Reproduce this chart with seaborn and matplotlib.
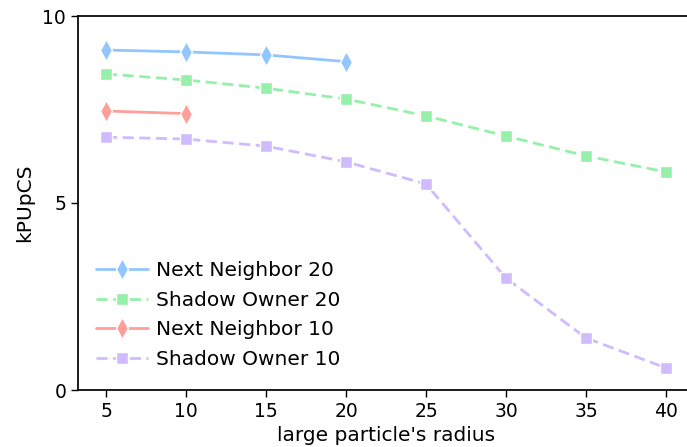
import matplotlib
matplotlib.use("Agg")
import matplotlib.pyplot as plt
import seaborn as sns
import pandas as pd

radius = [5, 10, 15, 20, 25, 30, 35, 40]
nn20 = [9.09, 9.04, 8.96, 8.78]
so20 = [8.45, 8.29, 8.07, 7.78, 7.33, 6.79, 6.26, 5.83]
nn10 = [7.46, 7.39]
so10 = [6.76, 6.71, 6.52, 6.10, 5.51, 2.99, 1.39, 0.59]
labels = ["Next Neighbor 20", "Shadow Owner 20", "Next Neighbor 10", "Shadow Owner 10"]
colors = ["#92C6FF", "#97F0AA", "#FF9F9A", "#D0BBFF"]

sns.set_theme(style="ticks", rc={"axes.edgecolor": "black", "xtick.color": "black",
                                 "ytick.color": "black", "axes.labelcolor": "black",
                                 "text.color": "black"})
plt.rcParams['font.family'] = ['DejaVu Sans']

fig = plt.figure(figsize=(6.87, 4.47), dpi=100)
ax = fig.add_axes([78/687, 1-390/447, 616/687, 374/447])

series = [nn20, so20, nn10, so10]
marks = ["d", "s", "d", "s"]
msizes = [11, 9, 11, 9]
styles = ["-", "--", "-", "--"]
for lab, vals, col, mk, ms, ls in zip(labels, series, colors, marks, msizes, styles):
    d = pd.DataFrame({"radius": radius[:len(vals)], "kPUpCS": vals})
    sns.lineplot(data=d, x="radius", y="kPUpCS", color=col, marker=mk, markersize=ms,
                 linestyle=ls, linewidth=2, markeredgecolor="white", markeredgewidth=1,
                 label=lab, ax=ax)
for line in ax.get_lines():
    if line.get_linestyle() == "--":
        line.set_dashes((4, 2))

ax.spines["right"].set_visible(False)
ax.set_ylim(0, 10)
ax.set_xlim(3.25, 41.75)
ax.set_yticks([0, 5, 10])
ax.set_xticks(radius)
ax.tick_params(labelsize=13.5, length=5, width=1)
ax.set_xlabel("large particle's radius", fontsize=14.5, labelpad=4)
ax.set_ylabel("kPUpCS", fontsize=14.5, labelpad=6)
leg = ax.legend(frameon=False, fontsize=14.5, loc="lower left", handlelength=2.6,
                handletextpad=0.35, labelspacing=0.52, bbox_to_anchor=(0.0, 0.008))
fig.savefig("out.png", dpi=100)
